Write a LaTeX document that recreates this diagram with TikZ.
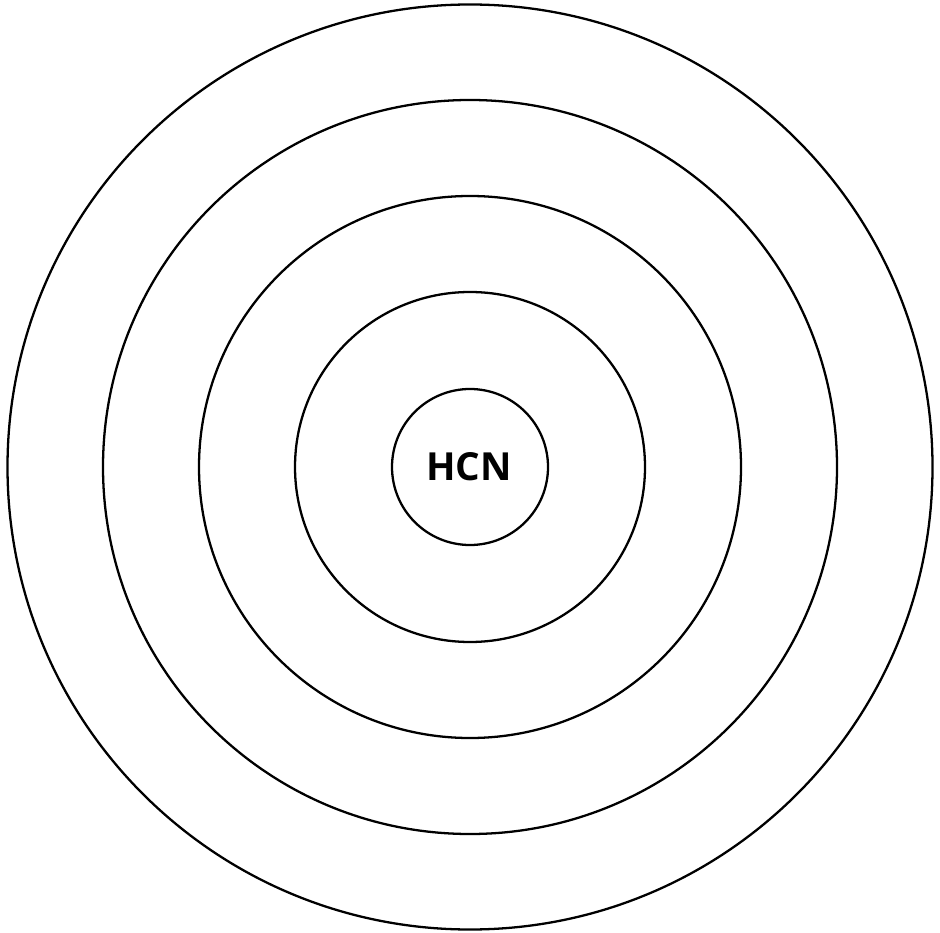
\documentclass[tikz,border=0pt]{standalone}
\usepackage{fontspec}
\setmainfont{Open Sans}
\usetikzlibrary{positioning}

\begin{document}
\begin{tikzpicture}[line width=1.3pt]

  % Fixed frame (940 x 932 px at 0.02 cm per px)
  \useasboundingbox (0,0) rectangle (18.8,18.64);

  % Common centre of the rings
  \coordinate (centre) at (9.4,9.3);

  % === Concentric rings ===
  \foreach \r in {1.56, 3.5, 5.42, 7.34, 9.25} {
    \draw (centre) circle (\r);
  }

  % === Label in the inner ring ===
  \node[font=\fontsize{22}{26}\selectfont\bfseries, right=-0.02cm of centre, anchor=center] (hcn) {HCN};

\end{tikzpicture}
\end{document}
